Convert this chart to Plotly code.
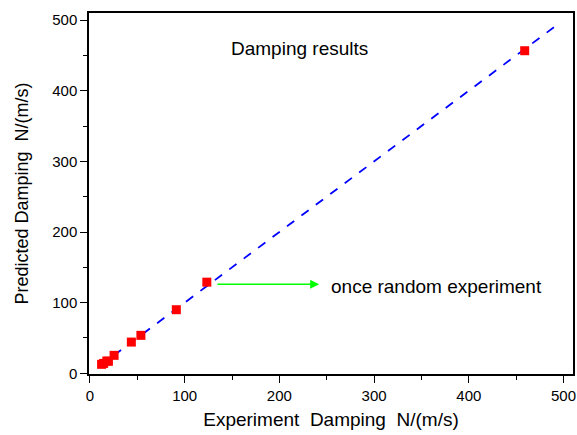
import plotly.graph_objects as go

exp_damping = [12.3, 14.5, 17.8, 19.5, 25.5, 43.7, 53.8, 91.2, 123.4, 459.0]
pred_damping = [12.7, 14.0, 17.4, 17.0, 25.4, 44.2, 53.7, 90.0, 129.0, 456.6]
fit_x = [10, 495]
fit_y = [10, 495]

FONT = "Liberation Sans, Arial"

fig = go.Figure()
fig.add_trace(go.Scatter(x=fit_x, y=fit_y, mode="lines",
                         line=dict(color="#0000ff", width=1.8, dash="9px,9px"),
                         showlegend=False))
fig.add_trace(go.Scatter(x=exp_damping, y=pred_damping, mode="markers",
                         marker=dict(symbol="square", size=9, color="#ff0000"),
                         showlegend=False))

fig.add_annotation(x=242, y=126, ax=133, ay=126, xref="x", yref="y",
                   axref="x", ayref="y", text="", showarrow=True,
                   arrowhead=2, arrowsize=1.2, arrowwidth=1.5, arrowcolor="#00ff00")
fig.add_annotation(x=252, y=123, xref="x", yref="y", text="once random experiment",
                   showarrow=False, xanchor="left", yanchor="middle",
                   font=dict(family=FONT, size=19, color="black"))
fig.add_annotation(x=147, y=460, xref="x", yref="y", text="Damping results",
                   showarrow=False, xanchor="left", yanchor="middle",
                   font=dict(family=FONT, size=19, color="black"))

axis_common = dict(showline=True, linecolor="black", linewidth=1.5, mirror=True,
                   ticks="outside", ticklen=7, tickwidth=1, tickcolor="black",
                   showgrid=False, zeroline=False, dtick=100,
                   minor=dict(ticks="outside", ticklen=4, dtick=50, tickcolor="black"),
                   tickfont=dict(family=FONT, size=15, color="black"))

fig.update_xaxes(range=[-1, 510], **axis_common,
                 title=dict(text="Experiment  Damping  N/(m/s)", standoff=10,
                            font=dict(family=FONT, size=19, color="black")))
fig.update_yaxes(range=[-1, 510], **axis_common,
                 title=dict(text="Predicted Damping  N/(m/s)", standoff=19,
                            font=dict(family=FONT, size=18, color="black")))

fig.update_layout(width=577, height=435, margin=dict(l=89, r=2, t=13, b=61),
                  plot_bgcolor="white", paper_bgcolor="white")

fig.write_html("out.html")
